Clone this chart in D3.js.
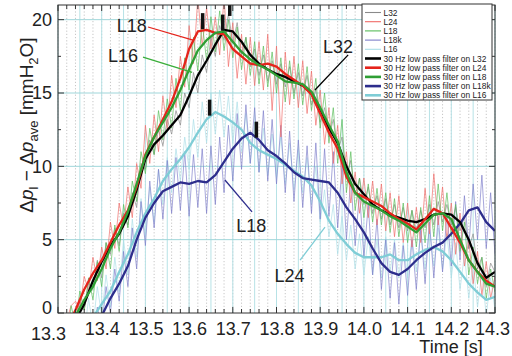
<!DOCTYPE html>
<html><head><meta charset="utf-8">
<script src="https://cdn.jsdelivr.net/npm/d3@7/dist/d3.min.js"></script>
<style>
html,body{margin:0;padding:0;background:#fff;}
svg{display:block;font-family:"Liberation Sans",Arial,Helvetica,sans-serif;}
</style></head>
<body><svg id="c" width="512" height="356"></svg>
<script>
// ---------------- data ----------------
const xTicks = [13.3,13.4,13.5,13.6,13.7,13.8,13.9,14.0,14.1,14.2,14.3];
const xTickLabels = ["13.3","13.4","13.5","13.6","13.7","13.8","13.9","14.0","14.1","14.2","14.3"];
const yTicks = [0,5,10,15,20];
const rawStart = 13.30, rawStep = 0.01;   // raw samples every 10 ms
const filtStart = 13.30, filtStep = 0.02; // filtered samples every 20 ms

const rawL32 = [
 -3,-2,-2.4,-0.8,-1.0,0.8,0.2,2.0,1.6,3.6,
 2.4,4.8,4.0,5.8,4.6,6.8,6.0,8.2,7.2,10.2,
 9.8,11.8,10.8,12.5,11.4,13.2,12.2,13.8,12.8,15.0,
 14.0,16.4,15.0,17.6,16.4,18.8,17.5,19.6,18.6,20.4,
 18.4,19.8,17.6,18.8,16.8,18.0,16.2,17.6,15.8,17.2,
 15.6,17.0,15.4,16.8,15.0,16.4,14.8,16.2,14.2,15.2,
 13.0,14.0,12.0,13.2,11.0,12.0,9.2,10.4,8.0,9.2,
 7.4,8.6,6.8,8.0,6.4,7.8,6.0,7.4,5.8,7.2,
 5.6,7.0,5.6,7.0,5.8,7.4,6.0,7.6,6.2,7.4,
 6.0,7.2,5.6,6.6,4.4,5.4,3.0,3.8,1.8,3.4,
 2.8];
const rawL24 = [
 -3,-2,-0.5,0.5,0.8,0.3,2.5,1.5,3.8,2.2,
 4.5,3.0,6.2,4.4,7.5,5.8,8.6,6.5,10.2,8.5,
 12.8,10.2,13.5,11.0,14.8,12.5,16.2,14.0,17.5,15.4,
 19.6,17.0,21.5,18.2,20.8,18.0,20.2,17.6,21.5,16.8,
 19.8,16.0,19.0,15.6,18.8,15.5,18.5,15.2,19.0,13.8,
 18.2,12.0,17.8,14.2,17.5,14.0,17.2,13.6,16.5,12.8,
 15.2,11.5,14.0,10.2,12.8,8.8,11.0,7.5,9.6,6.8,
 9.2,6.5,9.0,6.0,8.8,5.6,8.2,5.2,8.0,4.8,
 7.5,4.5,7.2,4.8,8.5,5.4,9.5,6.0,8.6,5.0,
 7.5,4.0,6.8,3.2,5.0,2.0,4.2,1.2,3.5,1.0,
 2.5];
const rawL18 = [
 -3,-1.5,-2.0,0.5,-0.8,1.5,0.2,2.4,0.9,3.5,
 1.8,4.8,3.0,6.0,4.2,7.4,5.8,9.0,7.6,11.0,
 9.5,12.6,10.8,13.8,11.8,14.6,12.6,16.0,13.8,17.4,
 15.2,18.8,16.5,19.8,17.2,20.2,17.8,20.6,17.9,20.0,
 17.4,19.5,16.6,18.8,16.2,18.5,15.6,18.2,15.4,17.8,
 15.0,17.4,14.4,17.2,14.6,17.0,14.2,16.8,13.8,16.0,
 12.6,15.0,11.6,14.0,10.2,13.2,8.2,11.0,7.0,9.2,
 6.5,8.8,6.2,8.5,6.0,8.2,5.5,7.8,5.2,7.5,
 4.8,7.0,4.5,7.2,4.8,8.0,5.2,8.8,5.6,8.2,
 5.2,7.4,4.2,6.2,2.6,4.5,2.0,3.8,1.0,3.0,
 1.4];
const rawL18k = [
 -3,-3,-3,-3,-3,-2,-2.5,-0.5,-1.5,0.4,
 -1.0,1.8,0.0,3.0,0.8,4.2,1.8,5.8,3.0,7.6,
 4.6,9.0,5.8,9.8,6.4,10.4,6.8,10.6,7.0,11.0,
 6.6,10.8,7.2,11.2,6.8,11.4,7.4,12.0,8.2,12.8,
 9.0,13.6,9.8,14.2,10.2,14.0,9.6,13.8,9.0,13.2,
 8.8,12.8,8.2,12.4,7.6,11.8,7.2,11.4,6.8,11.6,
 6.4,11.2,6.6,11.0,5.8,10.2,5.0,9.2,4.6,8.2,
 3.8,7.4,2.6,6.4,1.6,5.0,1.0,4.8,0.6,4.6,
 1.2,5.0,1.6,5.8,2.0,6.2,2.4,6.6,2.8,6.8,
 3.2,7.6,3.6,8.0,4.4,8.8,5.0,9.4,4.4,8.2,
 4.0];
const rawL16 = [
 -3,-3,-3,-2,-2.5,0.5,-1.5,1.0,-1.0,1.8,
 -0.2,2.6,0.4,3.8,1.4,5.0,2.6,6.4,3.8,7.8,
 5.2,8.6,6.2,9.8,7.4,10.6,8.2,11.2,9.0,12.0,
 9.8,13.2,10.6,14.4,11.6,15.0,12.2,15.2,12.0,14.8,
 11.6,14.4,11.0,13.6,10.2,13.0,9.6,12.6,9.4,12.2,
 9.2,12.0,8.8,11.6,8.4,11.2,8.2,10.6,7.4,10.0,
 6.2,8.4,5.2,7.4,4.0,6.6,3.6,6.0,3.0,5.4,
 2.6,5.2,2.6,5.0,2.4,5.2,2.8,5.0,2.4,4.8,
 2.4,5.2,2.8,5.6,3.0,5.8,3.2,5.8,3.0,5.4,
 2.4,4.8,1.6,4.0,1.0,3.4,0.4,2.8,-0.2,2.4,
 0.2];

const filtL32 = [-3,-2,-0.5,0.6,2.2,3.5,4.6,5.4,6.6,8.4,
 10.5,11.5,12.1,12.8,13.5,14.8,16.2,17.2,18.3,19.3,
 19.2,18.5,17.6,17.0,16.6,16.3,16.1,15.8,15.5,15.0,
 13.7,12.6,11.6,10.0,8.8,8.1,7.4,7.0,6.7,6.5,
 6.3,6.2,6.4,6.7,6.8,6.7,6.2,5.0,3.4,2.4,2.8];
const filtL24 = [-3,-1,0.2,1.6,2.7,3.6,4.8,6.0,7.0,8.6,
 10.8,12.0,13.2,14.4,16.0,18.0,19.2,19.3,19.1,19.0,
 18.0,17.5,17.0,16.9,17.0,16.8,16.3,15.9,15.5,14.9,
 13.6,12.3,11.2,9.3,8.2,7.9,7.6,7.3,6.8,6.4,
 6.1,5.7,6.4,7.1,6.8,5.8,4.8,3.6,2.8,2.2,1.8];
const filtL18 = [-3,-1.5,-0.2,0.9,1.8,3.0,4.4,5.5,6.9,8.8,
 10.7,12.0,13.0,14.0,15.2,16.6,17.9,18.6,19.1,19.2,
 18.5,17.8,17.3,16.9,16.6,16.2,15.8,15.7,15.6,15.1,
 14.0,12.8,11.7,9.6,8.2,7.6,7.3,7.0,6.6,6.3,
 5.9,5.5,6.1,6.7,6.8,6.4,5.0,3.6,2.8,2.0,1.8];
const filtL18k = [-3,-3,-3,-2,-1,-0.2,1.0,2.0,3.2,5.0,
 6.5,7.5,8.3,8.6,8.9,8.8,9.0,8.9,9.4,10.3,
 11.2,11.9,12.3,11.8,11.1,10.7,10.2,9.6,9.2,9.1,
 9.0,8.9,8.2,7.2,6.4,5.5,4.4,3.4,2.8,2.6,
 3.0,3.6,4.1,4.5,4.8,5.4,6.1,7.0,7.2,6.2,5.6];
const filtL16 = [-3,-3,-2,-1,-0.3,0.6,1.5,2.8,4.0,5.5,
 6.8,7.8,9.0,9.8,10.5,11.3,12.3,13.2,13.7,13.4,
 13.0,12.5,11.6,11.1,10.8,10.5,10.1,9.7,9.3,8.7,
 7.6,6.3,5.4,4.7,4.1,3.8,3.8,3.8,4.0,3.6,
 3.6,4.0,4.3,4.5,4.2,3.6,2.8,2.0,1.4,0.9,1.1];

// short black marks on the traces
const markT = [13.631,13.677,13.693,13.647,13.754];
const markV = [19.9,19.8,20.8,14.0,12.5];

const legendLabels = ["L32","L24","L18","L18k","L16",
 "30 Hz low pass filter on L32","30 Hz low pass filter on L24","30 Hz low pass filter on L18",
 "30 Hz low pass filter on L18k","30 Hz low pass filter on L16"];

// annotations: label, text pos (t,v), leader start/end (t,v)
const annoLabels = ["L18","L16","L32","L18","L24"];
const annoTextT = [13.469,13.449,13.941,13.742,13.830];
const annoTextV = [19.16,17.1,17.73,5.52,2.11];
const annoFromT = [13.506,13.4945,13.964,13.744,13.854];
const annoFromV = [19.5,17.45,17.6,6.9,3.6];
const annoToT = [13.609,13.607,13.888,13.682,13.911];
const annoToV = [18.6,16.4,15.2,9.07,5.86];

// ---------------- styles ----------------
const rawColors = {L32:"#8a8a8a",L24:"#f06a66",L18:"#58bc58",L18k:"#7d7dca",L16:"#abdee7"};
const filtColors = {L32:"#000000",L24:"#e5231b",L18:"#2f9e34",L18k:"#2d2d8c",L16:"#7fcdd6"};
const annoColors = ["#e5231b","#3aae3a","#000000","#2d2d8c","#7fcdd6"];

const svg = d3.select("#c");
const L=58,R=495,T=5,B=313;
const x = d3.scaleLinear().domain([13.3,14.3]).range([L,R]);
const y = d3.scaleLinear().domain([0,21]).range([B,T]);

svg.append("defs").append("clipPath").attr("id","clip")
  .append("rect").attr("x",L).attr("y",T).attr("width",R-L).attr("height",B-T);

const grid = svg.append("g");
const minorX = d3.range(0,51).map(i=>13.3+i*0.02);
grid.selectAll("line.vd").data(minorX).join("line")
  .attr("x1",d=>x(d)).attr("x2",d=>x(d)).attr("y1",T).attr("y2",B)
  .attr("stroke","#b8b8b8").attr("stroke-width",0.8).attr("stroke-dasharray","1.2,2");
const cyanX = d3.range(0,21).map(i=>13.3+i*0.05);
grid.selectAll("line.vc").data(cyanX).join("line")
  .attr("x1",d=>x(d)).attr("x2",d=>x(d)).attr("y1",T).attr("y2",B)
  .attr("stroke","#b7e2e6").attr("stroke-width",1);
grid.selectAll("line.h").data(yTicks.slice(1)).join("line")
  .attr("x1",L).attr("x2",R).attr("y1",d=>y(d)).attr("y2",d=>y(d))
  .attr("stroke","#9fd6da").attr("stroke-width",1);

const plot = svg.append("g").attr("clip-path","url(#clip)");
const rawLine = d3.line().x((d,i)=>x(rawStart+i*rawStep)).y(d=>y(d));
const filtLine = d3.line().x((d,i)=>x(filtStart+i*filtStep)).y(d=>y(d));

const raws = [["L16",rawL16],["L18k",rawL18k],["L32",rawL32],["L24",rawL24],["L18",rawL18]];
raws.forEach(([k,arr])=>{
  plot.append("path").attr("d",rawLine(arr)).attr("fill","none")
    .attr("stroke",rawColors[k]).attr("stroke-width",0.8).attr("stroke-opacity",0.85);
});
const filts = [["L16",filtL16],["L18k",filtL18k],["L32",filtL32],["L24",filtL24],["L18",filtL18]];
filts.forEach(([k,arr])=>{
  plot.append("path").attr("d",filtLine(arr)).attr("fill","none")
    .attr("stroke",filtColors[k]).attr("stroke-width",2.3).attr("stroke-linejoin","round");
});
plot.selectAll("line.mk").data(markT).join("line")
  .attr("x1",d=>x(d)).attr("x2",d=>x(d))
  .attr("y1",(d,i)=>y(markV[i])-8).attr("y2",(d,i)=>y(markV[i])+8)
  .attr("stroke","#111").attr("stroke-width",3.5);

// frame
svg.append("rect").attr("x",L).attr("y",T).attr("width",R-L).attr("height",B-T)
  .attr("fill","none").attr("stroke","#333").attr("stroke-width",1);

// ticks (inward)
const tk = svg.append("g").attr("stroke","#333").attr("stroke-width",1);
minorX.forEach((t,i)=>{
  const len = (i%5===0)?6:4;
  tk.append("line").attr("x1",x(t)).attr("x2",x(t)).attr("y1",B).attr("y2",B-len);
  tk.append("line").attr("x1",x(t)).attr("x2",x(t)).attr("y1",T).attr("y2",T+len);
});
d3.range(0,9).map(i=>i*2.5).forEach((v,i)=>{
  const len = (i%2===0)?6:3;
  tk.append("line").attr("x1",L).attr("x2",L+len).attr("y1",y(v)).attr("y2",y(v));
  tk.append("line").attr("x1",R).attr("x2",R-len).attr("y1",y(v)).attr("y2",y(v));
});

// axes labels
const yAx = svg.append("g").attr("transform",`translate(${L},0)`)
  .call(d3.axisLeft(y).tickValues(yTicks).tickSize(0).tickPadding(6).tickFormat(d3.format("d")));
yAx.select(".domain").remove();
yAx.selectAll("text").attr("font-size",18).attr("fill","#222")
  .attr("font-family","Liberation Sans, Arial, sans-serif")
  .attr("dy",(d,i)=> i===0 ? "0.05em" : "0.32em");

const xAx = svg.append("g").attr("transform",`translate(0,${B})`)
  .call(d3.axisBottom(x).tickValues(xTicks).tickSize(0).tickPadding(9).tickFormat((d,i)=>xTickLabels[i]));
xAx.select(".domain").remove();
xAx.selectAll("text").attr("font-size",18).attr("fill","#222")
  .attr("font-family","Liberation Sans, Arial, sans-serif")
  .attr("dx",(d,i)=> i===0 ? -10 : (i===xTicks.length-1 ? -3 : 0))
  .attr("dy",(d,i)=> i===0 ? "1.0em" : "0.71em");

svg.append("text").attr("x",451).attr("y",353).attr("text-anchor","middle")
  .attr("font-size",18).attr("fill","#222").text("Time [s]");

const yl = svg.append("text").attr("transform","translate(33,125) rotate(-90)")
  .attr("text-anchor","middle").attr("font-size",19).attr("fill","#222");
yl.append("tspan").text("Δ");
yl.append("tspan").attr("font-style","italic").text("p");
yl.append("tspan").attr("font-size",13).attr("dy",5).text("l");
yl.append("tspan").attr("dy",-5).text(" − Δ");
yl.append("tspan").attr("font-style","italic").text("p");
yl.append("tspan").attr("font-size",13).attr("dy",5).text("ave");
yl.append("tspan").attr("dy",-5).text(" [mmH");
yl.append("tspan").attr("font-size",13).attr("dy",5).text("2");
yl.append("tspan").attr("dy",-5).text("O]");

// annotations
annoLabels.forEach((lab,i)=>{
  svg.append("line").attr("x1",x(annoFromT[i])).attr("y1",y(annoFromV[i]))
    .attr("x2",x(annoToT[i])).attr("y2",y(annoToV[i]))
    .attr("stroke",annoColors[i]).attr("stroke-width",1.3);
  svg.append("text").attr("x",x(annoTextT[i])).attr("y",y(annoTextV[i]))
    .attr("text-anchor","middle").attr("font-size",18).attr("fill","#222").text(lab);
});

// legend
const lg = svg.append("g");
lg.append("rect").attr("x",362).attr("y",4).attr("width",130).attr("height",96)
  .attr("fill","#fff").attr("stroke","#333").attr("stroke-width",1);
const legKeys = ["L32","L24","L18","L18k","L16"];
legendLabels.forEach((lab,i)=>{
  const yy = 12.5 + i*9.2;
  const k = legKeys[i%5];
  const filt = i>=5;
  lg.append("line").attr("x1",365).attr("x2",381).attr("y1",yy).attr("y2",yy)
    .attr("stroke",filt?filtColors[k]:rawColors[k]).attr("stroke-width",filt?2.6:1.1);
  lg.append("text").attr("x",383.5).attr("y",yy+3).attr("font-size",8.4).attr("fill","#222").text(lab);
});
</script></body></html>
